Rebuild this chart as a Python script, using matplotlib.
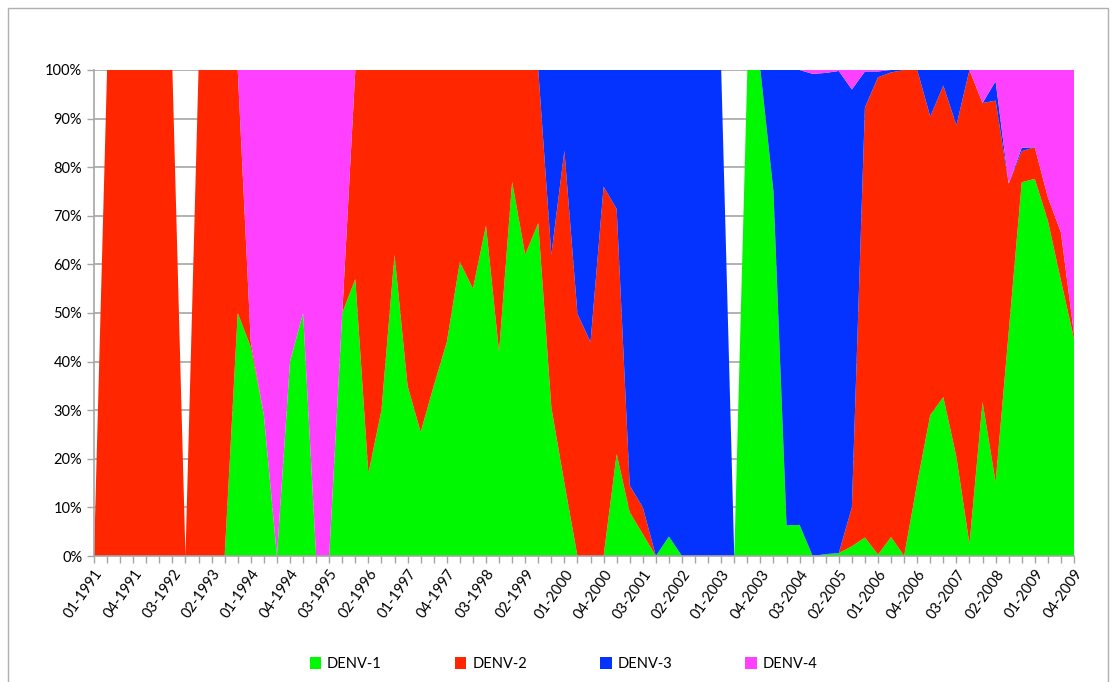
import numpy as np
import matplotlib
matplotlib.use("Agg")
import matplotlib.pyplot as plt
import matplotlib.patches as patches

plt.rcParams['font.family'] = ['Lato', 'DejaVu Sans']

# quarterly labels 01-1991 .. 04-2009
quarters = ["%02d-%d" % (q, y) for y in range(1991, 2010) for q in range(1, 5)]

denv1 = [0, 0, 0, 0, 0, 0, 0, 0, 0, 0, 0, 50, 43, 29, 0, 40, 50, 0, 0, 50,
         57, 17, 30, 62, 35, 25.5, 35, 44, 60.5, 55, 68, 42, 77, 62, 68.5, 30.6, 15, 0, 0, 0,
         21, 9, 4.5, 0, 4, 0, 0, 0, 0, 0, 100, 100, 75, 6.3, 6.4, 0, 0.4, 0.6, 2, 3.8,
         0.3, 3.9, 0, 15, 29, 32.7, 20.4, 2.5, 31.7, 15.2, 46, 76.9, 77.6, 69, 56.7, 44.7]
denv2 = [0, 100, 100, 100, 100, 100, 100, 0, 100, 100, 100, 50, 1, 0, 0, 0, 0, 0, 0, 0,
         43, 83, 70, 38, 65, 74.5, 65, 56, 39.5, 45, 32, 58, 23, 38, 31.5, 31.4, 68.4, 49.8, 44, 76,
         50.4, 5.5, 5.5, 0, 0, 0, 0, 0, 0, 0, 0, 0, 0, 0, 0, 0, 0, 0, 8, 88.5,
         98.2, 95.6, 100, 85, 61.4, 64.1, 68.2, 97.5, 61.5, 78.5, 30.6, 6.4, 6.5, 4.8, 9.9, 1]
denv3 = [0, 0, 0, 0, 0, 0, 0, 0, 0, 0, 0, 0, 0, 0, 0, 0, 0, 0, 0, 0,
         0, 0, 0, 0, 0, 0, 0, 0, 0, 0, 0, 0, 0, 0, 0, 38, 16.6, 50.2, 56, 24,
         28.6, 85.5, 90, 100, 96, 100, 100, 100, 100, 0, 0, 0, 25, 93.7, 93.6, 99.2, 99, 99.2, 86, 7.4,
         1.2, 0.5, 0, 0, 9.6, 3.2, 11.4, 0, 0, 4, 0, 0.7, 0, 0, 0, 0]
denv4 = [0, 0, 0, 0, 0, 0, 0, 0, 0, 0, 0, 0, 56, 71, 100, 60, 50, 100, 100, 50,
         0, 0, 0, 0, 0, 0, 0, 0, 0, 0, 0, 0, 0, 0, 0, 0, 0, 0, 0, 0,
         0, 0, 0, 0, 0, 0, 0, 0, 0, 0, 0, 0, 0, 0, 0, 0.8, 0.6, 0.2, 4, 0.3,
         0.3, 0, 0, 0, 0, 0, 0, 0, 6.8, 2.3, 23.4, 16, 15.9, 26.2, 33.4, 54.3]

names = ["DENV-1", "DENV-2", "DENV-3", "DENV-4"]
colors = ["#00F900", "#FF2600", "#0433FF", "#FF40FF"]

data = np.array([denv1, denv2, denv3, denv4], dtype=float)
tot = data.sum(axis=0)
share = np.divide(data, tot, out=np.zeros_like(data), where=tot > 0) * 100
x = np.arange(len(quarters))

fig = plt.figure(figsize=(11.12, 6.82), dpi=100)
fig.patches.append(patches.Rectangle((8 / 1112, -0.05), 1100 / 1112, 1 - 8 / 682 + 0.05,
                                     transform=fig.transFigure, fill=False,
                                     edgecolor="#B0B0B0", lw=1))
ax = fig.add_axes([94 / 1112, 126 / 682, 980 / 1112, 486 / 682])

ax.set_axisbelow(True)
ax.yaxis.grid(True, color="#A6A6A6", lw=1.2)
ax.stackplot(x, share, colors=colors, labels=names, lw=0)

ax.set_xlim(0, len(quarters) - 1)
ax.set_ylim(0, 100)
ax.set_yticks(np.arange(0, 101, 10))
ax.set_yticklabels(["%d%%" % v for v in range(0, 101, 10)], fontsize=10.5)
ax.set_xticks(x[::3])
ax.set_xticklabels(quarters[::3], rotation=55, ha="right", rotation_mode="anchor", fontsize=10.5)
ax.set_xticks(x, minor=True)
ax.tick_params(axis="both", which="both", color="#A6A6A6", length=5, width=1)
ax.tick_params(axis="x", which="major", pad=3)

for s in ["top", "right"]:
    ax.spines[s].set_visible(False)
for s in ["left", "bottom"]:
    ax.spines[s].set_color("#A6A6A6")
    ax.spines[s].set_linewidth(1.2)

ax.legend(loc="upper center", bbox_to_anchor=(0.479, -0.181), ncol=4, frameon=False,
          fontsize=10.5, handlelength=0.8, handleheight=0.8, columnspacing=5.0, handletextpad=0.4)

fig.savefig("out.png", dpi=100)
